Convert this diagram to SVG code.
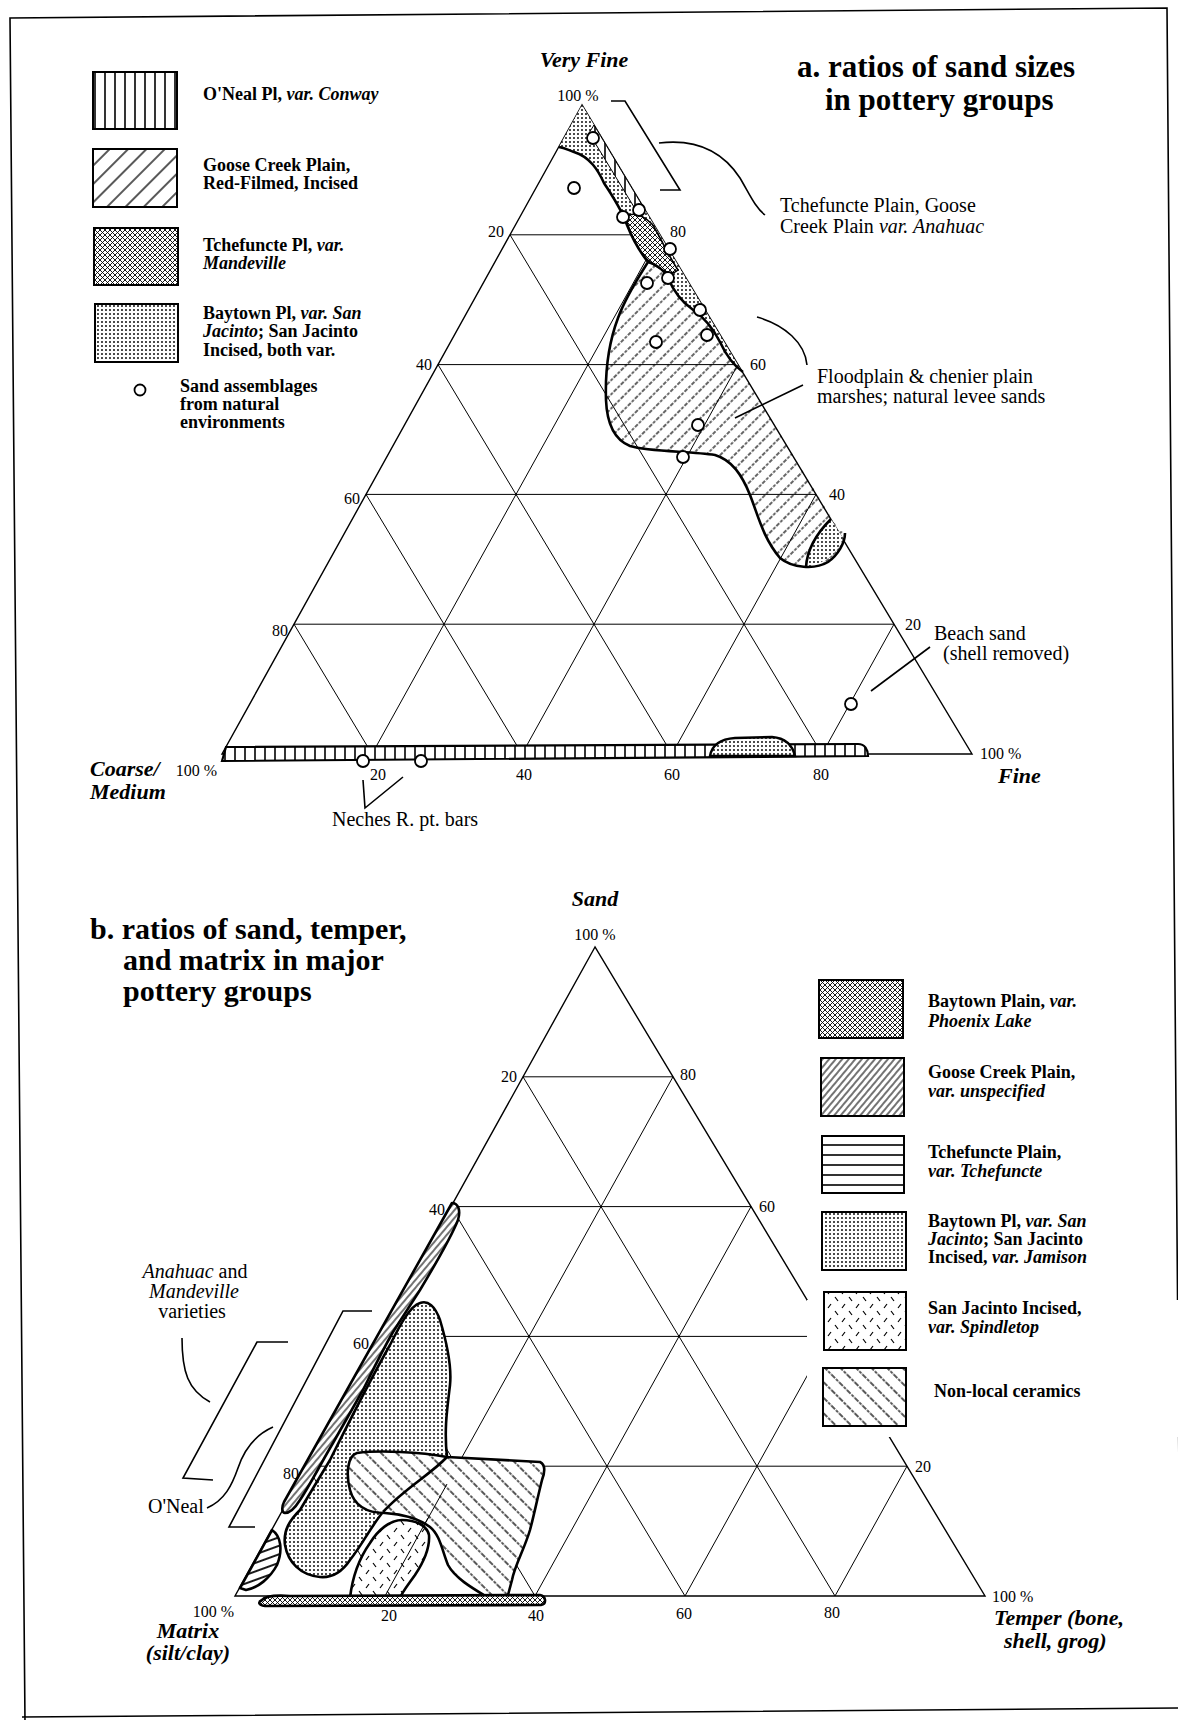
<svg xmlns="http://www.w3.org/2000/svg" width="1178" height="1720" viewBox="0 0 1178 1720">
<style>
text{font-family:"Liberation Serif","Times New Roman",serif;fill:#000}
.lg{font-size:18px;font-weight:bold}
.ti{font-size:31px;font-weight:bold}
.tib{font-size:30px;font-weight:bold}
.ax{font-size:22px;font-weight:bold;font-style:italic}
.num{font-size:16px}
.an{font-size:20px}
.i{font-style:italic}
.grid{fill:none;stroke:#000;stroke-width:1}
.side{fill:none;stroke:#000;stroke-width:1.4}
.ol{fill:none;stroke:#000;stroke-width:2.6;stroke-linejoin:round}
.olb{stroke:#000;stroke-width:2.6;stroke-linejoin:round}
.box{stroke:#000;stroke-width:2}
.pt{fill:#fff;stroke:#000;stroke-width:1.8}
.con{fill:none;stroke:#000;stroke-width:1.6}
.frame{fill:none;stroke:#000;stroke-width:1.6}
</style>
<defs>
<pattern id="pV" width="10" height="10" patternUnits="userSpaceOnUse"><rect width="10" height="10" fill="#fff"/><line x1="5" y1="0" x2="5" y2="10" stroke="#000" stroke-width="1.6"/></pattern>
<pattern id="pDiag" width="13" height="13" patternUnits="userSpaceOnUse" patternTransform="rotate(45)"><rect width="13" height="13" fill="#fff"/><line x1="1" y1="0" x2="1" y2="13" stroke="#000" stroke-width="1.3"/></pattern>
<pattern id="pDiagA" width="10" height="10" patternUnits="userSpaceOnUse" patternTransform="rotate(45)"><line x1="1" y1="0" x2="1" y2="10" stroke="#000" stroke-width="1.2" stroke-dasharray="3 1.5"/></pattern>
<pattern id="pCross" width="5" height="5" patternUnits="userSpaceOnUse"><rect width="5" height="5" fill="#fff"/><path d="M0,0 L5,5 M5,0 L0,5" stroke="#000" stroke-width="0.9"/></pattern>
<pattern id="pDots" width="4" height="4" patternUnits="userSpaceOnUse"><rect width="4" height="4" fill="#fff"/><circle cx="2" cy="2" r="0.95" fill="#000"/></pattern>
<pattern id="pDiagFine" width="5" height="5" patternUnits="userSpaceOnUse" patternTransform="rotate(40)"><rect width="5" height="5" fill="#fff"/><line x1="1" y1="0" x2="1" y2="5" stroke="#000" stroke-width="1.1"/></pattern>
<pattern id="pH" width="10" height="10" patternUnits="userSpaceOnUse"><rect width="10" height="10" fill="#fff"/><line x1="0" y1="5" x2="10" y2="5" stroke="#000" stroke-width="1.6"/></pattern>
<pattern id="pHs" width="8" height="8" patternUnits="userSpaceOnUse" patternTransform="rotate(-20)"><rect width="8" height="8" fill="#fff"/><line x1="0" y1="4" x2="8" y2="4" stroke="#000" stroke-width="1.8"/></pattern>
<pattern id="pBack" width="11" height="11" patternUnits="userSpaceOnUse" patternTransform="rotate(-45)"><rect width="11" height="11" fill="#fff"/><line x1="1" y1="0" x2="1" y2="11" stroke="#000" stroke-width="1.3" stroke-dasharray="3 1.2"/></pattern>
<pattern id="pSpin" width="14" height="14" patternUnits="userSpaceOnUse"><rect width="14" height="14" fill="#fff"/><path d="M2,6 L5,2 M9,9 L12,13" stroke="#000" stroke-width="1.2"/></pattern>
<path id="grid" d="M294,624.2 L894,624.2 M366,494.4 L816,494.4 M438,364.6 L738,364.6 M510,234.8 L660,234.8 M372,754 L660,234.8 M522,754 L738,364.6 M672,754 L816,494.4 M822,754 L894,624.2 M372,754 L294,624.2 M522,754 L366,494.4 M672,754 L438,364.6 M822,754 L510,234.8"/>
<path id="tri" d="M582,105 L222,754 L972,754 Z"/>
</defs>
<rect width="1178" height="1720" fill="#fff"/>

<g id="frame">
<path class="frame" d="M25,1722 L10,18 L1167,8 L1181,1722 M22,1717 L1178,1708"/>
</g>

<!-- ===== Panel a ===== -->
<g id="triangle-a">
<use href="#grid" class="grid"/>
<use href="#tri" class="side"/>
</g>

<g id="regions-a">
<path id="a-dots-top" d="M582,105 L741,370 C733,365 726,355 720,342 C714,330 705,318 692,309 C682,302 674,292 668,278 C664,270 656,264 648,262 C640,252 633,240 627,225 C622,210 613,197 604,183 C598,170 590,157 574,152 C568,150 565,148 559,147 Z" fill="url(#pDots)"/>
<path id="a-oneal-strip" d="M594,125 L642,205 L634,207 L589,133 Z" fill="url(#pV)" stroke="#000" stroke-width="1"/>
<path id="a-cross" d="M626,216 C634,212 642,214 652,224 C660,236 668,255 678,270 C672,276 664,272 656,266 C648,262 640,252 634,240 C630,232 627,224 626,216 Z" fill="url(#pCross)" stroke="#000" stroke-width="1.6"/>
<path id="a-goose" d="M648,262 C638,278 626,296 618,318 C609,342 605,370 606,400 C607,425 615,440 630,446 C650,452 690,451 715,455 C732,460 742,475 750,495 C758,515 763,538 780,558 C792,568 815,570 828,562 C838,555 845,543 845,533 L839,530 L741,370 C733,365 726,355 720,342 C714,330 705,318 692,309 C682,302 674,292 668,278 C664,270 656,264 648,262 Z" fill="url(#pDiagA)"/>
<path id="a-dots-low" d="M806,567 C807,550 815,535 831,519 L843,538 C838,553 826,563 806,567 Z" fill="url(#pDots)"/>
<path class="ol" d="M559,147 C565,148 568,150 574,152 C590,157 598,170 604,183 C613,197 622,210 627,225 C633,240 640,252 648,262 C638,278 626,296 618,318 C609,342 605,370 606,400 C607,425 615,440 630,446 C650,452 690,451 715,455 C732,460 742,475 750,495 C758,515 763,538 780,558 C792,568 815,570 828,562 C838,555 845,543 845,533"/>
<path class="ol" d="M648,262 C656,264 664,270 668,278 C674,292 682,302 692,309 C705,318 714,330 720,342 C726,355 733,365 743,372"/>
<path class="ol" d="M806,567 C807,550 815,535 831,519"/>
<path id="a-base-band" d="M222,761 L226,747 L858,744 C865,744 868,750 868,756 L222,761 Z" fill="url(#pV)" stroke="#000" stroke-width="2.2"/>
<path id="a-base-dots" d="M710,756 C712,745 720,739 735,738 L772,737 C784,738 792,743 795,756 Z" fill="url(#pDots)" stroke="#000" stroke-width="2.4"/>
</g>

<g id="points-a">
<circle class="pt" cx="593" cy="138" r="6"/>
<circle class="pt" cx="574" cy="188" r="6"/>
<circle class="pt" cx="639" cy="210" r="6"/>
<circle class="pt" cx="623" cy="217" r="6"/>
<circle class="pt" cx="670" cy="249" r="6"/>
<circle class="pt" cx="647" cy="283" r="6"/>
<circle class="pt" cx="668" cy="278" r="6"/>
<circle class="pt" cx="700" cy="310" r="6"/>
<circle class="pt" cx="707" cy="335" r="6"/>
<circle class="pt" cx="656" cy="342" r="6"/>
<circle class="pt" cx="698" cy="425" r="6"/>
<circle class="pt" cx="683" cy="457" r="6"/>
<circle class="pt" cx="851" cy="704" r="6"/>
<circle class="pt" cx="363" cy="761" r="6"/>
<circle class="pt" cx="421" cy="761" r="6"/>
</g>

<g id="labels-a">
<text class="ax" x="584" y="67" text-anchor="middle">Very Fine</text>
<text class="num" x="578" y="101" text-anchor="middle">100 %</text>
<text class="num" x="504" y="237" text-anchor="end">20</text>
<text class="num" x="432" y="370" text-anchor="end">40</text>
<text class="num" x="360" y="504" text-anchor="end">60</text>
<text class="num" x="288" y="636" text-anchor="end">80</text>
<text class="num" x="670" y="237">80</text>
<text class="num" x="750" y="370">60</text>
<text class="num" x="829" y="500">40</text>
<text class="num" x="905" y="630">20</text>
<text class="num" x="378" y="780" text-anchor="middle">20</text>
<text class="num" x="524" y="780" text-anchor="middle">40</text>
<text class="num" x="672" y="780" text-anchor="middle">60</text>
<text class="num" x="821" y="780" text-anchor="middle">80</text>
<text class="num" x="217" y="776" text-anchor="end">100 %</text>
<text class="ax" x="90" y="776">Coarse/</text>
<text class="ax" x="90" y="799">Medium</text>
<text class="num" x="980" y="759">100 %</text>
<text class="ax" x="998" y="783">Fine</text>
<text class="ti" x="797" y="77">a. ratios of sand sizes</text>
<text class="ti" x="825" y="110">in pottery groups</text>
<text class="an" x="780" y="212">Tchefuncte Plain, Goose</text>
<text class="an" x="780" y="233">Creek Plain <tspan class="i">var. Anahuac</tspan></text>
<text class="an" x="817" y="383">Floodplain &amp; chenier plain</text>
<text class="an" x="817" y="403">marshes; natural levee sands</text>
<text class="an" x="934" y="640">Beach sand</text>
<text class="an" x="943" y="660">(shell removed)</text>
<text class="an" x="332" y="826">Neches R. pt. bars</text>
</g>

<g id="legend-a">
<g id="leg-a-oneal"><rect class="box" x="93" y="72" width="84" height="57" fill="url(#pV)"/><text class="lg" x="203" y="100">O'Neal Pl, <tspan class="i">var. Conway</tspan></text></g>
<g id="leg-a-goose"><rect class="box" x="93" y="149" width="84" height="58" fill="url(#pDiag)"/><text class="lg" x="203" y="171">Goose Creek Plain,</text><text class="lg" x="203" y="189">Red-Filmed, Incised</text></g>
<g id="leg-a-tchef"><rect class="box" x="94" y="228" width="84" height="57" fill="url(#pCross)"/><text class="lg" x="203" y="251">Tchefuncte Pl, <tspan class="i">var.</tspan></text><text class="lg i" x="203" y="269">Mandeville</text></g>
<g id="leg-a-baytown"><rect class="box" x="95" y="304" width="83" height="58" fill="url(#pDots)"/><text class="lg" x="203" y="319">Baytown Pl, <tspan class="i">var. San</tspan></text><text class="lg" x="203" y="337"><tspan class="i">Jacinto</tspan>; San Jacinto</text><text class="lg" x="203" y="356">Incised, both var.</text></g>
<g id="leg-a-sand"><circle class="pt" cx="140" cy="390" r="5.5"/><text class="lg" x="180" y="392">Sand assemblages</text><text class="lg" x="180" y="410">from natural</text><text class="lg" x="180" y="428">environments</text></g>
</g>

<!-- ===== Panel b ===== -->
<g id="triangle-b" transform="translate(13,842)">
<use href="#grid" class="grid"/>
<use href="#tri" class="side"/>
</g>
<rect x="807" y="1300" width="371" height="137" fill="#fff"/>

<g id="regions-b">
<path id="b-goose" class="olb" d="M452,1203 C458,1203 461,1210 458,1220 C450,1240 435,1265 420,1290 L393,1332 C380,1355 372,1372 363,1390 L333,1443 C320,1465 310,1485 300,1500 C295,1508 290,1513 285,1513 C281,1512 282,1506 284,1502 Z" fill="url(#pDiagFine)"/>
<path id="b-dots" class="olb" d="M420,1303 C428,1300 435,1306 440,1320 C446,1340 452,1365 450,1385 C447,1410 444,1430 447,1457 C430,1475 405,1488 383,1512 C372,1525 362,1545 350,1560 C342,1572 332,1578 320,1577 C300,1575 288,1562 285,1545 C283,1530 290,1520 300,1510 L330,1460 C350,1420 370,1380 390,1345 C400,1325 410,1306 420,1303 Z" fill="url(#pDots)"/>
<path id="b-nonlocal" class="olb" d="M357,1453 C380,1450 420,1452 447,1457 L540,1462 C546,1465 545,1472 542,1480 C537,1500 534,1515 530,1530 C524,1550 515,1565 512,1580 L508,1595 C505,1600 495,1602 487,1597 C472,1588 455,1578 448,1565 C442,1550 440,1535 430,1527 C418,1518 400,1514 385,1513 C370,1513 355,1508 350,1490 C346,1475 347,1456 357,1453 Z" fill="url(#pBack)"/>
<path class="ol" d="M447,1457 C430,1475 405,1488 383,1512"/>
<path class="grid" d="M385,1596 L447,1484"/>
<path id="b-spindle" class="olb" d="M350,1598 C352,1580 358,1560 370,1543 C378,1530 390,1520 402,1520 C415,1520 427,1525 429,1535 C430,1548 425,1560 415,1575 C408,1585 402,1592 399,1600 Z" fill="url(#pSpin)"/>
<path class="grid" d="M385,1596 L428,1518"/>
<path id="b-phoenix" class="olb" d="M262,1600 C265,1596 275,1595 290,1596 L540,1595 C546,1596 547,1604 541,1605 L265,1606 C258,1605 258,1602 262,1600 Z" fill="url(#pCross)"/>
<path id="b-tchef" class="olb" d="M272,1530 C281,1536 283,1550 277,1565 C270,1578 258,1588 246,1590 L240,1588 Z" fill="url(#pHs)"/>
</g>

<g id="labels-b">
<text class="ax" x="595" y="906" text-anchor="middle">Sand</text>
<text class="num" x="595" y="940" text-anchor="middle">100 %</text>
<text class="num" x="517" y="1082" text-anchor="end">20</text>
<text class="num" x="445" y="1215" text-anchor="end">40</text>
<text class="num" x="369" y="1349" text-anchor="end">60</text>
<text class="num" x="299" y="1479" text-anchor="end">80</text>
<text class="num" x="680" y="1080">80</text>
<text class="num" x="759" y="1212">60</text>
<text class="num" x="915" y="1472">20</text>
<text class="num" x="389" y="1621" text-anchor="middle">20</text>
<text class="num" x="536" y="1621" text-anchor="middle">40</text>
<text class="num" x="684" y="1619" text-anchor="middle">60</text>
<text class="num" x="832" y="1618" text-anchor="middle">80</text>
<text class="num" x="234" y="1617" text-anchor="end">100 %</text>
<text class="ax" x="188" y="1638" text-anchor="middle">Matrix</text>
<text class="ax" x="188" y="1660" text-anchor="middle">(silt/clay)</text>
<text class="num" x="992" y="1602">100 %</text>
<text class="ax" x="994" y="1625">Temper (bone,</text>
<text class="ax" x="1004" y="1648">shell, grog)</text>
<text class="tib" x="90" y="939">b. ratios of sand, temper,</text>
<text class="tib" x="123" y="970">and matrix in major</text>
<text class="tib" x="123" y="1001">pottery groups</text>
<text class="an" x="195" y="1278" text-anchor="middle"><tspan class="i">Anahuac</tspan> and</text>
<text class="an i" x="194" y="1298" text-anchor="middle">Mandeville</text>
<text class="an" x="192" y="1318" text-anchor="middle">varieties</text>
<text class="an" x="148" y="1513">O'Neal</text>
</g>

<g id="legend-b">
<g id="leg-b-phoenix"><rect class="box" x="819" y="980" width="84" height="58" fill="url(#pCross)"/><text class="lg" x="928" y="1007">Baytown Plain, <tspan class="i">var.</tspan></text><text class="lg i" x="928" y="1027">Phoenix Lake</text></g>
<g id="leg-b-goose"><rect class="box" x="821" y="1058" width="83" height="58" fill="url(#pDiagFine)"/><text class="lg" x="928" y="1078">Goose Creek Plain,</text><text class="lg i" x="928" y="1097">var. unspecified</text></g>
<g id="leg-b-tchef"><rect class="box" x="822" y="1136" width="82" height="57" fill="url(#pH)"/><text class="lg" x="928" y="1158">Tchefuncte Plain,</text><text class="lg i" x="928" y="1177">var. Tchefuncte</text></g>
<g id="leg-b-baytown"><rect class="box" x="822" y="1212" width="84" height="58" fill="url(#pDots)"/><text class="lg" x="928" y="1227">Baytown Pl, <tspan class="i">var. San</tspan></text><text class="lg" x="928" y="1245"><tspan class="i">Jacinto</tspan>; San Jacinto</text><text class="lg" x="928" y="1263">Incised, <tspan class="i">var. Jamison</tspan></text></g>
<g id="leg-b-spindle"><rect class="box" x="824" y="1292" width="82" height="58" fill="url(#pSpin)"/><text class="lg" x="928" y="1314">San Jacinto Incised,</text><text class="lg i" x="928" y="1333">var. Spindletop</text></g>
<g id="leg-b-nonlocal"><rect class="box" x="823" y="1368" width="83" height="58" fill="url(#pBack)"/><text class="lg" x="934" y="1397">Non-local ceramics</text></g>
</g>

<g id="connectors">
<path class="con" d="M611,101 L625,101 L680,190 L660,190"/>
<path class="con" d="M659,143 C700,138 725,155 740,178 C750,195 755,207 765,215"/>
<path class="con" d="M757,317 C785,325 805,343 807,365"/>
<path class="con" d="M803,385 L735,418"/>
<path class="con" d="M930,647 L871,691"/>
<path class="con" d="M363,780 L365,808 L403,777"/>
<path class="con" d="M182,1338 C182,1372 188,1390 210,1402"/>
<path class="con" d="M288,1342 L257,1342 L183,1478 L213,1480"/>
<path class="con" d="M372,1311 L343,1311 L229,1527 L255,1527"/>
<path class="con" d="M207,1508 C225,1500 232,1485 238,1468 C244,1450 255,1435 273,1427"/>
</g>
</svg>
